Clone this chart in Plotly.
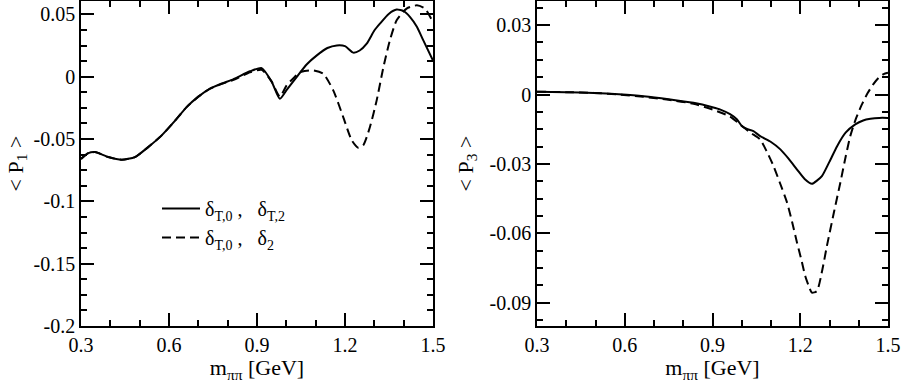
import plotly.graph_objects as go

# left panel: <P1>
p1_x_solid = [0.30, 0.325, 0.348, 0.393, 0.439, 0.484, 0.529, 0.575, 0.62, 0.66, 0.70, 0.74, 0.78, 0.82,
              0.876, 0.916, 0.95, 0.978, 1.00, 1.035, 1.07, 1.104, 1.14, 1.172, 1.20, 1.228, 1.25, 1.274,
              1.30, 1.319, 1.35, 1.376, 1.40, 1.422, 1.445, 1.467, 1.50]
p1_y_solid = [-0.066, -0.0613, -0.0605, -0.0645, -0.0666, -0.0645, -0.0565, -0.0471, -0.0355, -0.0244,
              -0.016, -0.0096, -0.0055, -0.002, 0.0043, 0.0069, -0.004, -0.0177, -0.011, -0.0003, 0.01,
              0.0171, 0.023, 0.0251, 0.0245, 0.0193, 0.021, 0.0265, 0.037, 0.0425, 0.0505, 0.0538, 0.0525,
              0.0478, 0.040, 0.0291, 0.013]

p1_x_dash = [0.30, 0.325, 0.348, 0.393, 0.439, 0.484, 0.529, 0.575, 0.62, 0.66, 0.70, 0.74, 0.78, 0.82,
             0.876, 0.916, 0.95, 0.978, 1.001, 1.025, 1.047, 1.07, 1.092, 1.126, 1.16, 1.194, 1.223, 1.245,
             1.262, 1.285, 1.308, 1.331, 1.353, 1.376, 1.41, 1.445, 1.473, 1.50]
p1_y_dash = [-0.066, -0.0613, -0.0605, -0.0645, -0.0666, -0.0645, -0.0565, -0.0471, -0.0355, -0.0244,
             -0.016, -0.0096, -0.0058, -0.0025, 0.0035, 0.0055, -0.004, -0.016, -0.007, -0.001, 0.0037,
             0.0048, 0.0051, 0.0024, -0.011, -0.0324, -0.0511, -0.057, -0.0551, -0.0404, -0.019, 0.0077,
             0.0291, 0.0452, 0.0546, 0.0572, 0.0546, 0.0435]

# right panel: <P3>
p3_x_solid = [0.30, 0.40, 0.494, 0.58, 0.664, 0.75, 0.835, 0.90, 0.927, 0.96, 0.984, 1.001, 1.02, 1.04,
              1.063, 1.10, 1.132, 1.16, 1.189, 1.215, 1.24, 1.257, 1.274, 1.30, 1.326, 1.355, 1.388,
              1.415, 1.44, 1.47, 1.50]
p3_y_solid = [0.0012, 0.001, 0.0007, 0.0001, -0.0007, -0.002, -0.0036, -0.0055, -0.0065, -0.0085,
              -0.0108, -0.0137, -0.015, -0.0158, -0.018, -0.0205, -0.0237, -0.0277, -0.0324, -0.0365,
              -0.0386, -0.0372, -0.0353, -0.029, -0.0223, -0.0165, -0.0129, -0.0112, -0.0105, -0.0101,
              -0.0101]

p3_x_dash = [0.30, 0.40, 0.494, 0.58, 0.664, 0.75, 0.835, 0.90, 0.96, 1.00, 1.03, 1.063, 1.085, 1.109,
             1.13, 1.155, 1.172, 1.189, 1.205, 1.217, 1.23, 1.24, 1.257, 1.275, 1.291, 1.315, 1.337,
             1.355, 1.371, 1.39, 1.41, 1.43, 1.45, 1.468, 1.485, 1.50]
p3_y_dash = [0.0012, 0.001, 0.0007, 0.0, -0.001, -0.0023, -0.004, -0.0065, -0.0095, -0.0135, -0.0165,
             -0.0194, -0.0245, -0.031, -0.038, -0.0467, -0.055, -0.064, -0.072, -0.0784, -0.083,
             -0.0856, -0.0849, -0.076, -0.0655, -0.051, -0.0381, -0.027, -0.018, -0.0105, -0.0045,
             0.0005, 0.0045, 0.0072, 0.0088, 0.0094]

x_ticks = [0.3, 0.6, 0.9, 1.2, 1.5]
x_ticktext = ["0.3", "0.6", "0.9", "1.2", "1.5"]
p1_ticks = [-0.2, -0.15, -0.1, -0.05, 0, 0.05]
p1_ticktext = ["-0.2", "-0.15", "-0.1", "-0.05", "0", "0.05"]
p3_ticks = [-0.09, -0.06, -0.03, 0, 0.03]
p3_ticktext = ["-0.09", "-0.06", "-0.03", "0", "0.03"]

name_solid = "δ<sub>T,0</sub> ,   δ<sub>T,2</sub>"
name_dash = "δ<sub>T,0</sub> ,   δ<sub>2</sub>"

FONT = "Liberation Serif, Times New Roman, serif"

fig = go.Figure()
fig.add_trace(go.Scatter(x=p1_x_solid, y=p1_y_solid, mode="lines", name=name_solid,
                         line=dict(color="black", width=2, shape="spline", smoothing=0.6),
                         xaxis="x", yaxis="y"))
fig.add_trace(go.Scatter(x=p1_x_dash, y=p1_y_dash, mode="lines", name=name_dash,
                         line=dict(color="black", width=2, dash="9px,5px", shape="spline", smoothing=0.6),
                         xaxis="x", yaxis="y"))
fig.add_trace(go.Scatter(x=p3_x_solid, y=p3_y_solid, mode="lines", showlegend=False,
                         line=dict(color="black", width=2, shape="spline", smoothing=0.6),
                         xaxis="x2", yaxis="y2"))
fig.add_trace(go.Scatter(x=p3_x_dash, y=p3_y_dash, mode="lines", showlegend=False,
                         line=dict(color="black", width=2, dash="9px,5px", shape="spline", smoothing=0.6),
                         xaxis="x2", yaxis="y2"))

common = dict(showline=True, linecolor="black", linewidth=1.5, mirror="ticks", ticks="inside",
              ticklen=13, tickwidth=1.5, tickcolor="black", showgrid=False, zeroline=False,
              automargin=False, tickfont=dict(family=FONT, size=20, color="black"))

xax = dict(common, range=[0.3, 1.5], tickvals=x_ticks, ticktext=x_ticktext,
           minor=dict(dtick=0.1, ticks="inside", ticklen=6, tickwidth=1.5, tickcolor="black"),
           title=dict(text="m<sub>ππ</sub> [GeV]", font=dict(family=FONT, size=22, color="black"),
                      standoff=0))

fig.update_layout(
    width=902, height=383,
    margin=dict(l=0, r=0, t=0, b=0),
    paper_bgcolor="white", plot_bgcolor="white",
    showlegend=True,
    xaxis=dict(xax, domain=[81 / 902, 433 / 902], anchor="y"),
    yaxis=dict(common, range=[-0.2, 0.0607], tickvals=p1_ticks, ticktext=p1_ticktext,
               domain=[57 / 383, 382 / 383], anchor="x",
               minor=dict(dtick=0.0125, tick0=0, ticks="inside", ticklen=6, tickwidth=1.5, tickcolor="black"),
               title=dict(text="< P<sub>1</sub> >", font=dict(family=FONT, size=22, color="black"),
                          standoff=4)),
    xaxis2=dict(xax, domain=[537 / 902, 888 / 902], anchor="y2"),
    yaxis2=dict(common, range=[-0.1, 0.0404], tickvals=p3_ticks, ticktext=p3_ticktext,
                domain=[57 / 383, 382 / 383], anchor="x2",
                minor=dict(dtick=0.0075, tick0=0, ticks="inside", ticklen=6, tickwidth=1.5, tickcolor="black"),
                title=dict(text="< P<sub>3</sub> >", font=dict(family=FONT, size=22, color="black"),
                           standoff=10)),
    legend=dict(x=157 / 902, y=1 - 189 / 383, xanchor="left", yanchor="top",
                bgcolor="rgba(0,0,0,0)", itemwidth=38, tracegroupgap=0,
                font=dict(family=FONT, size=20, color="black")),
)

fig.write_html("out.html", config={"displayModeBar": False},
               post_script="document.body.style.margin='0px';")
